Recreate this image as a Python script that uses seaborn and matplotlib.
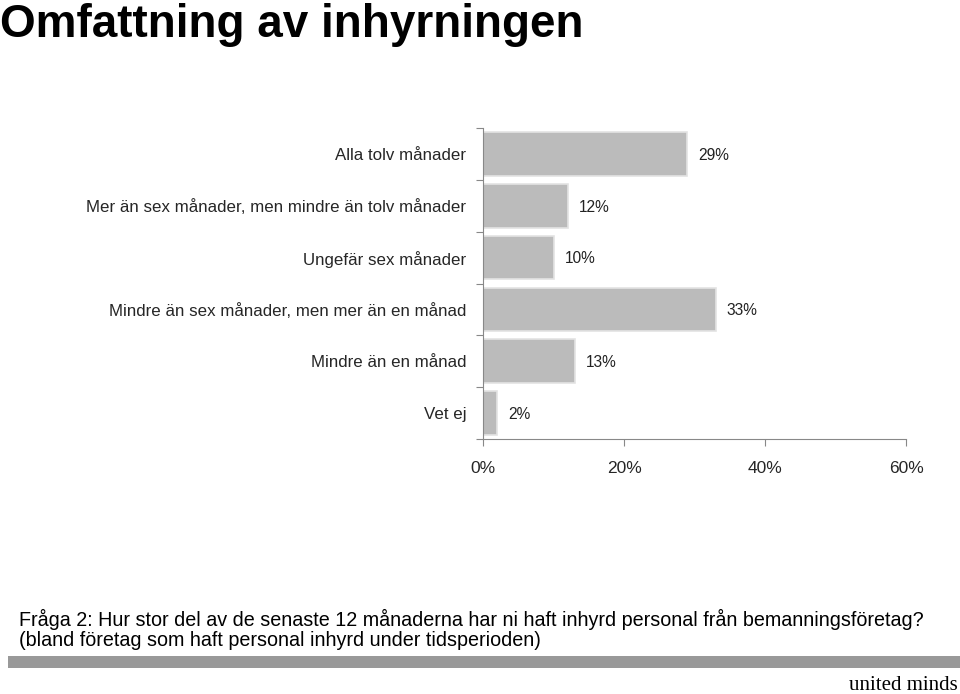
import matplotlib
matplotlib.use("Agg")
import matplotlib.pyplot as plt
import matplotlib.patches as mpatches
import seaborn as sns
import pandas as pd
import numpy as np

categories = [
    "Alla tolv månader",
    "Mer än sex månader, men mindre än tolv månader",
    "Ungefär sex månader",
    "Mindre än sex månader, men mer än en månad",
    "Mindre än en månad",
    "Vet ej",
]
values = [29, 12, 10, 33, 13, 2]
value_labels = ["29%", "12%", "10%", "33%", "13%", "2%"]
x_ticks = [0, 20, 40, 60]
x_tick_labels = ["0%", "20%", "40%", "60%"]

title = "Omfattning av inhyrningen"
note1 = "Fråga 2: Hur stor del av de senaste 12 månaderna har ni haft inhyrd personal från bemanningsföretag?"
note2 = "(bland företag som haft personal inhyrd under tidsperioden)"
brand = "united minds"

sns.set_theme(style="white")
plt.rcParams['font.family'] = ['Liberation Sans', 'DejaVu Sans']

df = pd.DataFrame({"kategori": categories, "andel": values})

fig = plt.figure(figsize=(9.6, 6.94), dpi=100)
ax = fig.add_axes([483/960, 1-439/694, (906-483)/960, (439-128)/694])

sns.barplot(data=df, x="andel", y="kategori", orient="h", ax=ax,
            color="#bbbbbb", saturation=1, width=0.84,
            edgecolor="#e3e3e3", linewidth=1.2)

ax.set_xlim(0, 60)
ax.set_ylim(len(categories) - 0.5, -0.5)
ax.set_xlabel("")
ax.set_ylabel("")
ax.set_xticks(x_ticks)
ax.set_xticklabels(x_tick_labels, fontsize=12.5)
ax.set_yticks(range(len(categories)))
ax.set_yticklabels(categories, fontsize=12.2)
ax.tick_params(axis="y", which="major", length=0, pad=12)
ax.tick_params(axis="x", which="major", bottom=True, length=5, width=0.8,
               color="#888888", direction="out", pad=11)
# boundary tick marks
ax.set_yticks(np.arange(-0.5, len(categories), 1.0), minor=True)
ax.tick_params(axis="y", which="minor", left=True, length=5, width=0.8,
               color="#888888", direction="out")

for s in ["top", "right"]:
    ax.spines[s].set_visible(False)
for s in ["left", "bottom"]:
    ax.spines[s].set_color("#888888")
    ax.spines[s].set_linewidth(0.8)

for p, lab in zip(ax.patches, value_labels):
    w = p.get_width()
    yc = p.get_y() + p.get_height() / 2
    ax.annotate(lab, (w, yc), xytext=(8, -1), textcoords="offset points",
                va="center", ha="left", fontsize=11.2, color="#222222")

fig.text(0.0, 1 - 37/694, title, fontsize=33, fontweight="bold", va="baseline", ha="left",
         color="black")
fig.text(19/960, 1 - 619/694, note1, fontsize=14.2, va="center", ha="left", color="black")
fig.text(19/960, 1 - 640/694, note2, fontsize=14.2, va="center", ha="left", color="black")

fig.patches.append(mpatches.Rectangle((8/960, 1 - 668/694), (960-8)/960, 12/694,
                                      transform=fig.transFigure, facecolor="#999999",
                                      edgecolor="none"))
fig.text(958/960, 1 - 686/694, brand, fontsize=15, family="Liberation Serif",
         va="center", ha="right", color="black")

fig.savefig("out.png", dpi=100, facecolor="white")
